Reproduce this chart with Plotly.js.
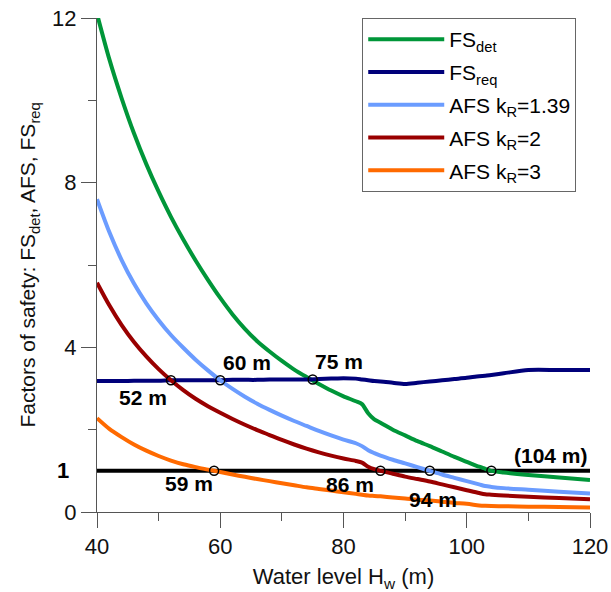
<!DOCTYPE html>
<html>
<head>
<meta charset="utf-8">
<script src="https://cdn.plot.ly/plotly-3.0.1.min.js"></script>
<style>
  html, body { margin: 0; padding: 0; background: #fff; }
  #chart { width: 611px; height: 592px; }
</style>
</head>
<body>
<div id="chart"></div>
<script>
// Water level H_w (m)
const waterLevel = [40, 42, 44, 46, 48, 50, 52, 54, 56, 58, 60, 62, 64, 66, 68, 70, 72, 74, 76, 78,
                    80, 82, 83, 84, 85, 86, 88, 90, 92, 94, 96, 98, 100, 102, 103, 104, 106, 110, 115, 120];

// Deterministic factor of safety
const fsDet = [12.1, 11.0, 10.05, 9.2, 8.45, 7.78, 7.17, 6.62, 6.11, 5.64, 5.2, 4.8, 4.45, 4.15, 3.9, 3.67, 3.46, 3.28, 3.11, 2.95,
               2.81, 2.69, 2.62, 2.4, 2.25, 2.17, 2.0, 1.86, 1.72, 1.6, 1.47, 1.34, 1.22, 1.1, 1.05, 1.0, 0.96, 0.9, 0.84, 0.78];

// Required factor of safety
const fsReq = [3.18, 3.18, 3.18, 3.19, 3.19, 3.19, 3.2, 3.2, 3.2, 3.2, 3.2, 3.21, 3.21, 3.21, 3.22, 3.22, 3.22, 3.22, 3.23, 3.24,
               3.25, 3.24, 3.22, 3.2, 3.18, 3.17, 3.14, 3.11, 3.14, 3.17, 3.2, 3.23, 3.26, 3.3, 3.31, 3.33, 3.37, 3.45, 3.45, 3.45];

// Adjusted factors of safety for k_R = 1.39, 2 and 3
const afsK139 = [7.6, 6.8, 6.12, 5.55, 5.07, 4.66, 4.3, 3.99, 3.7, 3.44, 3.2, 2.99, 2.8, 2.63, 2.48, 2.34, 2.21, 2.09, 1.97, 1.86,
                 1.76, 1.67, 1.6, 1.5, 1.43, 1.37, 1.27, 1.18, 1.09, 1.0, 0.91, 0.83, 0.75, 0.67, 0.63, 0.61, 0.58, 0.54, 0.49, 0.45];
const afsK2 = [5.57, 5.02, 4.54, 4.13, 3.78, 3.47, 3.2, 2.96, 2.75, 2.57, 2.41, 2.26, 2.12, 1.99, 1.87, 1.75, 1.64, 1.54, 1.45, 1.37,
               1.3, 1.24, 1.2, 1.1, 1.04, 1.0, 0.93, 0.86, 0.8, 0.74, 0.67, 0.6, 0.53, 0.46, 0.43, 0.42, 0.4, 0.37, 0.34, 0.31];
const afsK3 = [2.28, 2.02, 1.82, 1.64, 1.49, 1.36, 1.25, 1.16, 1.09, 1.03, 0.97, 0.91, 0.855, 0.8, 0.75, 0.7, 0.65, 0.6, 0.56, 0.52,
               0.48, 0.44, 0.42, 0.4, 0.39, 0.38, 0.355, 0.33, 0.3, 0.28, 0.25, 0.22, 0.2, 0.16, 0.15, 0.145, 0.14, 0.13, 0.12, 0.11];

// Reference level FS = 1
const unityX = [40, 120];
const unityY = [1, 1];

// Crossing points and their water levels
const crossX = [52, 60, 75, 59, 86, 94, 104];
const crossY = [3.2, 3.2, 3.22, 1, 1, 1, 1];
const crossParen = [false, false, false, false, false, false, true];

// Axis ticks
const xTicks = [40, 60, 80, 100, 120];
const yTicks = [0, 4, 8, 12];
const yMinorTicks = [2, 6, 10];

const FONT = 'Liberation Sans, Arial, sans-serif';
const lineW = 4;

function curve(y, name, color) {
  return {
    x: waterLevel, y: y, mode: 'lines', name: name, legendgroup: name,
    line: { color: color, width: lineW, shape: 'spline', smoothing: 0.8 }
  };
}

const traces = [
  { x: unityX, y: unityY, mode: 'lines', line: { color: '#000000', width: lineW }, showlegend: false, hoverinfo: 'skip' },
  curve(fsDet, 'FS<sub>det</sub>', '#009639'),
  curve(fsReq, 'FS<sub>req</sub>', '#00007a'),
  curve(afsK139, 'AFS k<sub>R</sub>=1.39', '#6b9cff'),
  curve(afsK2, 'AFS k<sub>R</sub>=2', '#990000'),
  curve(afsK3, 'AFS k<sub>R</sub>=3', '#ff6a00'),
  { x: crossX, y: crossY, mode: 'markers', showlegend: false, hoverinfo: 'skip',
    marker: { symbol: 'circle-open', size: 9, color: '#000000', line: { width: 1.5 } } }
];

// Label offsets (px) relative to each crossing point
const labelShift = [[-28, -17], [27, 18], [26, 18], [-25, -13], [-30, -14], [3, -29], [60, 15]];

const annotations = crossX.map((v, i) => ({
  x: v, y: crossY[i], xref: 'x', yref: 'y',
  text: crossParen[i] ? '(' + v + ' m)' : v + ' m',
  showarrow: false, xanchor: 'center', yanchor: 'middle',
  xshift: labelShift[i][0], yshift: labelShift[i][1],
  font: { family: FONT, size: 21, color: '#000000', weight: 'bold' }
}));

// Bold "1" level label on the y axis
annotations.push({
  x: 0, xref: 'paper', y: 1, yref: 'y', text: '<b>1</b>', showarrow: false,
  xanchor: 'right', yanchor: 'middle', xshift: -26,
  font: { family: FONT, size: 22, color: '#000000' }
});

const layout = {
  width: 611, height: 592,
  margin: { l: 97, r: 21, t: 18, b: 80 },
  paper_bgcolor: '#ffffff', plot_bgcolor: '#ffffff',
  font: { family: FONT, size: 21, color: '#111111' },
  showlegend: true,
  legend: {
    x: 0.538, y: 1, xanchor: 'left', yanchor: 'top',
    bordercolor: '#666666', borderwidth: 1, bgcolor: '#ffffff',
    font: { family: FONT, size: 21, color: '#000000' },
    itemwidth: 76, tracegroupgap: 2.5, traceorder: 'grouped'
  },
  xaxis: {
    range: [40, 120], tickvals: xTicks, ticks: 'outside', ticklen: 15, tickwidth: 1, tickcolor: '#555555',
    showline: true, linecolor: '#555555', linewidth: 1, showgrid: false, zeroline: false,
    minor: { dtick: 10, tick0: 40, ticks: 'outside', ticklen: 8, tickcolor: '#555555', showgrid: false },
    tickfont: { family: FONT, size: 22, color: '#111111' },
    title: { text: 'Water level H<sub>w</sub> (m)', font: { family: FONT, size: 22, color: '#111111' }, standoff: 10 }
  },
  yaxis: {
    range: [0, 12], tickvals: yTicks, ticks: 'outside', ticklen: 15, tickwidth: 1, tickcolor: '#555555',
    showline: true, linecolor: '#555555', linewidth: 1, showgrid: false, zeroline: false,
    minor: { tickvals: yMinorTicks, ticks: 'outside', ticklen: 8, tickcolor: '#555555', showgrid: false },
    tickfont: { family: FONT, size: 22, color: '#111111' },
    title: { text: 'Factors of safety: FS<sub>det</sub>, AFS, FS<sub>req</sub>', font: { family: FONT, size: 21, color: '#111111' }, standoff: 10 }
  },
  annotations: annotations
};

Plotly.newPlot('chart', traces, layout, { displayModeBar: false, staticPlot: true });
</script>
</body>
</html>
